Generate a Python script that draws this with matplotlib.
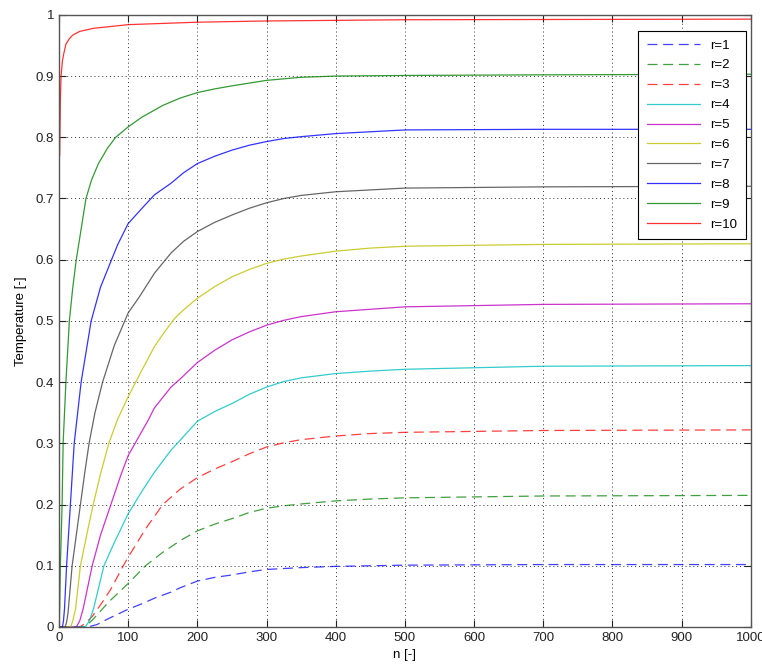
import matplotlib
matplotlib.use('Agg')
import matplotlib.pyplot as plt

plt.rcParams['font.family'] = ['Liberation Sans Narrow', 'Liberation Sans', 'DejaVu Sans']

# values
x_r1 = [0, 42, 55, 72, 100, 120, 140, 162, 175, 200, 225, 250, 275, 300, 350, 400, 450, 500, 700, 1000]
y_r1 = [0, 0, 0.004, 0.014, 0.029, 0.038, 0.048, 0.057, 0.064, 0.075, 0.081, 0.085, 0.090, 0.094, 0.097, 0.099, 0.100, 0.101, 0.102, 0.102]

x_r2 = [0, 35, 40, 48, 72, 100, 125, 150, 162, 175, 200, 225, 250, 275, 300, 325, 350, 400, 450, 500, 700, 1000]
y_r2 = [0, 0, 0.003, 0.011, 0.041, 0.071, 0.100, 0.122, 0.131, 0.141, 0.157, 0.168, 0.177, 0.187, 0.194, 0.198, 0.201, 0.206, 0.209, 0.211, 0.214, 0.215]

x_r3 = [0, 30, 38, 48, 63, 75, 93, 100, 125, 150, 175, 200, 225, 250, 275, 300, 325, 350, 400, 450, 500, 700, 1000]
y_r3 = [0, 0, 0.006, 0.017, 0.041, 0.062, 0.100, 0.114, 0.160, 0.200, 0.225, 0.244, 0.258, 0.270, 0.283, 0.294, 0.301, 0.306, 0.312, 0.316, 0.318, 0.321, 0.322]

x_r4 = [0, 38, 44, 50, 65, 80, 100, 120, 138, 162, 175, 200, 225, 250, 275, 300, 325, 350, 400, 450, 500, 700, 1000]
y_r4 = [0, 0, 0.010, 0.030, 0.100, 0.138, 0.185, 0.222, 0.253, 0.289, 0.305, 0.336, 0.352, 0.365, 0.380, 0.392, 0.401, 0.407, 0.414, 0.418, 0.421, 0.426, 0.427]

x_r5 = [0, 25, 30, 35, 48, 60, 75, 90, 100, 115, 129, 138, 162, 175, 200, 225, 250, 275, 300, 325, 350, 400, 450, 500, 700, 1000]
y_r5 = [0, 0, 0.010, 0.030, 0.100, 0.150, 0.200, 0.250, 0.280, 0.310, 0.338, 0.358, 0.392, 0.405, 0.432, 0.452, 0.469, 0.482, 0.493, 0.501, 0.507, 0.515, 0.519, 0.523, 0.527, 0.528]

x_r6 = [0, 17, 20, 24, 31, 40, 49.5, 60, 72, 85, 100, 120, 138, 150, 167, 180, 200, 225, 250, 275, 300, 325, 350, 400, 450, 500, 700, 1000]
y_r6 = [0, 0, 0.010, 0.030, 0.100, 0.150, 0.200, 0.250, 0.300, 0.340, 0.376, 0.420, 0.458, 0.478, 0.504, 0.518, 0.537, 0.556, 0.572, 0.584, 0.594, 0.601, 0.606, 0.614, 0.619, 0.622, 0.625, 0.626]

x_r7 = [0, 9, 11, 13, 19, 25, 31, 37, 43.5, 52, 63, 80, 100, 116, 138, 162, 180, 200, 225, 250, 275, 300, 325, 350, 400, 450, 500, 700, 1000]
y_r7 = [0, 0, 0.008, 0.022, 0.100, 0.150, 0.200, 0.250, 0.300, 0.350, 0.400, 0.460, 0.513, 0.539, 0.578, 0.611, 0.630, 0.646, 0.661, 0.673, 0.684, 0.693, 0.700, 0.705, 0.711, 0.714, 0.717, 0.719, 0.720]

x_r8 = [0, 5, 6.5, 8, 11, 16.5, 22, 32, 46.5, 60, 76, 85, 100, 120, 138, 162, 180, 200, 225, 250, 275, 300, 325, 350, 400, 450, 500, 700, 1000]
y_r8 = [0, 0, 0.010, 0.030, 0.100, 0.200, 0.300, 0.400, 0.500, 0.555, 0.600, 0.625, 0.659, 0.684, 0.706, 0.725, 0.742, 0.757, 0.769, 0.779, 0.787, 0.793, 0.798, 0.801, 0.806, 0.809, 0.812, 0.813, 0.813]

x_r9 = [0, 1, 2, 4.5, 6, 10, 15, 20, 25, 32, 39, 47, 57, 70, 82, 100, 120, 150, 175, 200, 225, 250, 300, 350, 400, 500, 700, 1000]
y_r9 = [0, 0.03, 0.100, 0.200, 0.300, 0.400, 0.500, 0.555, 0.600, 0.650, 0.700, 0.730, 0.757, 0.782, 0.800, 0.817, 0.833, 0.852, 0.864, 0.873, 0.879, 0.884, 0.893, 0.898, 0.900, 0.901, 0.902, 0.903]

x_r10 = [1, 2, 3, 5, 7, 10, 15, 20, 30, 50, 100, 200, 300, 500, 1000]
y_r10 = [0.77, 0.86, 0.90, 0.925, 0.937, 0.952, 0.961, 0.967, 0.973, 0.978, 0.984, 0.988, 0.990, 0.992, 0.993]

series = [
    ('r=1', x_r1, y_r1, (0, 0, 1), '--'),
    ('r=2', x_r2, y_r2, (0, 0.5, 0), '--'),
    ('r=3', x_r3, y_r3, (1, 0, 0), '--'),
    ('r=4', x_r4, y_r4, (0, 0.75, 0.75), '-'),
    ('r=5', x_r5, y_r5, (0.75, 0, 0.75), '-'),
    ('r=6', x_r6, y_r6, (0.75, 0.75, 0), '-'),
    ('r=7', x_r7, y_r7, (0.25, 0.25, 0.25), '-'),
    ('r=8', x_r8, y_r8, (0, 0, 1), '-'),
    ('r=9', x_r9, y_r9, (0, 0.5, 0), '-'),
    ('r=10', x_r10, y_r10, (1, 0, 0), '-'),
]

fig = plt.figure(figsize=(7.62, 6.69), dpi=100)
ax = fig.add_axes([0.0774, 0.0628, 0.908, 0.915])

for label, xs, ys, color, ls in series:
    if ls == '--':
        ax.plot(xs, ys, color=color, linestyle=(0, (8, 4.5)), linewidth=0.9, alpha=0.75, label=label)
    else:
        ax.plot(xs, ys, color=color, linestyle='-', linewidth=0.9, alpha=0.8, label=label)

ax.set_xlim(0, 1000)
ax.set_ylim(0, 1)
ax.set_xticks(range(0, 1001, 100))
ax.set_yticks([i / 10 for i in range(11)])
ax.set_yticklabels(['0', '0.1', '0.2', '0.3', '0.4', '0.5', '0.6', '0.7', '0.8', '0.9', '1'])
ax.tick_params(direction='in', length=5, width=0.8, top=True, right=True, labelsize=9.5, colors='#222222')
ax.grid(True, color='#333333', linestyle=(0, (1, 3)), linewidth=0.7)
for sp in ax.spines.values():
    sp.set_color('#555555')
    sp.set_linewidth(1.0)

ax.set_xlabel('n [-]', fontsize=9.5, labelpad=4)
ax.set_ylabel('Temperature [-]', fontsize=9.5, labelpad=6)

leg = ax.legend(loc='upper right', bbox_to_anchor=(0.9928, 0.974), borderaxespad=0, fontsize=9.5,
                handlelength=4.0, labelspacing=0.58, borderpad=0.65, fancybox=False,
                framealpha=1, edgecolor='black')
leg.get_frame().set_linewidth(0.8)

fig.savefig('out.png', dpi=100)
